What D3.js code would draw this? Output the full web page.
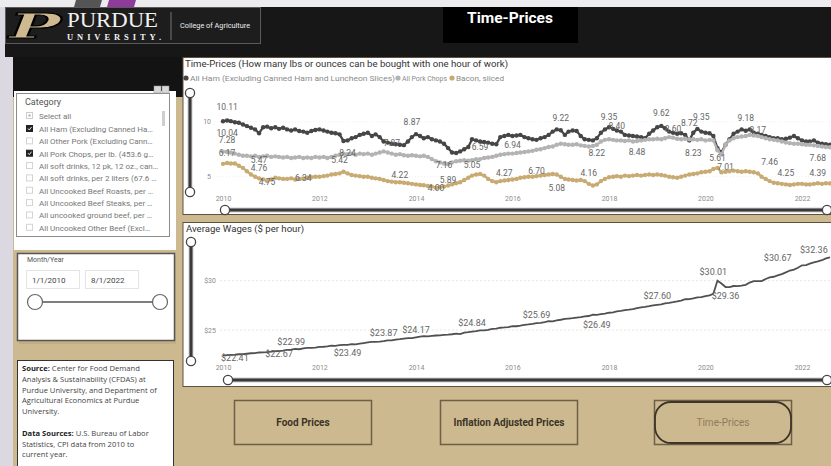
<!DOCTYPE html>
<meta charset="utf-8">
<head>
  <title>Time-Prices</title>
</head>
<style>
body { margin: 0; background: #dedae4; }
svg { display: block; font-family: Roboto, "Open Sans", sans-serif; }
.axis path, .axis line { display: none; }
.axis text { fill: #8c8c8c; font-size: 7px; font-family: Roboto, sans-serif; }
</style>
<body>
<svg width="831" height="466"></svg>
<script src="https://cdnjs.cloudflare.com/ajax/libs/d3/7.8.5/d3.min.js"></script>
<script>
// monthly series, Jan 2010 .. Aug 2022
var firstMonth = new Date(2010, 0, 1);

var ham = [
  10.04, 10.11, 10.05, 9.95, 9.9, 9.75, 9.6, 9.45, 9.3, 8.95, 9.5, 9.55,
  9.4, 9.5, 9.35, 9.45, 9.3, 9.2, 9.3, 9.15, 9.1, 9.0, 9.15, 9.25,
  9.3, 9.2, 9.1, 9.0, 8.95, 8.85, 8.25, 8.3, 8.5, 8.6, 8.8, 8.9,
  9.0, 8.7, 8.85, 8.6, 8.2, 8.1, 8.0, 7.95, 7.9, 7.87, 8.2, 8.6,
  8.87, 8.7, 8.5, 8.6, 8.4, 8.3, 8.2, 8.0, 7.6, 7.2, 7.15, 7.3,
  7.5, 7.7, 8.4, 8.3, 8.2, 8.15, 8.1, 8.0, 7.95, 8.6, 8.7, 8.8,
  8.7, 8.75, 8.8, 8.6, 8.5, 8.4, 8.35, 8.5, 8.6, 8.8, 9.1, 9.3,
  9.22, 8.8, 9.1, 9.2, 9.15, 8.7, 8.4, 8.35, 8.3, 8.5, 9.0, 9.3,
  9.5, 9.35, 9.2, 9.1, 8.8, 8.75, 8.7, 8.65, 8.6, 8.5, 8.9, 9.2,
  9.5, 9.62, 9.4, 9.1, 9.0, 8.9, 8.95, 8.8, 8.3, 9.0, 9.35, 9.1,
  9.0, 8.95, 8.7, 7.6, 7.2, 7.9, 8.4, 8.9, 9.1, 9.3, 9.18, 9.3,
  9.0, 8.9, 8.8, 8.7, 8.6, 8.5, 8.5, 8.4, 8.45, 8.55, 8.7, 8.5,
  8.3, 8.2, 8.2, 8.3, 8.1, 8.0, 7.95, 7.9
];

var porkChops = [
  7.28, 7.25, 7.2, 7.1, 7.0, 6.9, 6.9, 6.85, 6.9, 6.8, 6.85, 6.9,
  6.8, 6.85, 6.8, 6.75, 6.8, 6.7, 6.75, 6.8, 6.7, 6.75, 6.7, 6.8,
  6.75, 6.8, 6.7, 6.8, 6.9, 7.0, 7.1, 7.05, 7.1, 7.0, 7.1, 7.05,
  7.1, 7.0, 7.1, 7.2, 7.3, 7.2, 7.1, 7.0, 7.05, 6.95, 6.9, 6.95,
  6.9, 6.85, 6.9, 6.8, 6.6, 6.4, 6.3, 6.2, 6.15, 6.3, 6.4, 6.45,
  6.5, 6.45, 6.5, 6.6, 6.6, 6.7, 6.75, 6.8, 6.9, 7.0, 7.05, 7.1,
  7.1, 7.15, 7.2, 7.25, 7.3, 7.35, 7.45, 7.5, 7.6, 7.7, 7.75, 7.9,
  8.0, 7.95, 7.9, 7.9, 7.95, 7.85, 7.8, 7.75, 7.8, 7.9, 8.2, 8.35,
  8.4, 8.35, 8.3, 8.3, 8.25, 8.3, 8.2, 8.25, 8.3, 8.35, 8.4, 8.4,
  8.45, 8.4, 8.5, 8.6, 8.55, 8.45, 8.4, 8.45, 8.4, 8.4, 8.35, 8.4,
  8.3, 8.35, 8.3, 7.4, 7.01, 7.9, 8.3, 8.5, 8.6, 8.65, 8.7, 8.8,
  8.75, 8.7, 8.6, 8.5, 8.4, 8.35, 8.3, 8.2, 8.1, 8.05, 8.0, 8.0,
  7.95, 7.9, 7.9, 7.85, 7.8, 7.75, 7.7, 7.68
];

var bacon = [
  6.17, 6.25, 6.2, 6.2, 6.0, 5.8, 5.5, 5.2, 5.0, 4.85, 4.76, 4.6,
  4.75, 4.9, 4.85, 4.8, 4.8, 4.85, 4.75, 4.8, 4.85, 4.9, 4.95, 5.0,
  5.0, 5.05, 5.1, 5.2, 5.25, 5.3, 5.45, 5.3, 5.15, 5.1, 5.05, 5.0,
  5.0, 4.9, 4.85, 4.8, 4.7, 4.6, 4.55, 4.5, 4.5, 4.45, 4.4, 4.35,
  4.3, 4.25, 4.22, 4.15, 4.1, 4.0, 4.05, 4.1, 4.2, 4.3, 4.4, 4.5,
  4.7, 4.9, 5.1, 5.2, 5.25, 5.1, 4.8, 4.6, 4.5, 4.6, 4.65, 4.7,
  4.75, 4.8, 4.9, 4.95, 5.0, 5.0, 5.05, 5.1, 5.15, 5.2, 5.25, 5.2,
  5.0, 4.8, 4.75, 4.7, 4.65, 4.7, 4.6, 4.35, 4.2, 4.3, 4.6, 4.8,
  4.95, 5.0, 5.05, 5.0, 5.1, 5.05, 5.1, 5.15, 5.1, 5.15, 5.2, 5.15,
  5.2, 5.15, 5.1, 5.0, 4.95, 4.9, 5.0, 5.1, 5.2, 5.25, 5.3, 5.4,
  5.45, 5.5, 5.7, 5.8, 5.4, 5.45, 5.5, 5.55, 5.5, 5.45, 5.5, 5.45,
  5.4, 5.3, 5.0, 4.8, 4.6, 4.45, 4.4, 4.35, 4.3, 4.25, 4.3, 4.35,
  4.35, 4.3, 4.3, 4.35, 4.4, 4.35, 4.4, 4.39
];

var wages = [
  22.41, 22.45, 22.47, 22.49, 22.54, 22.55, 22.59, 22.64, 22.66, 22.72, 22.74, 22.76,
  22.80, 22.85, 22.86, 22.91, 22.99, 23.00, 23.09, 23.05, 23.13, 23.18, 23.18, 23.22,
  23.28, 23.30, 23.33, 23.41, 23.40, 23.47, 23.49, 23.50, 23.56, 23.55, 23.61, 23.67,
  23.74, 23.79, 23.80, 23.83, 23.87, 23.95, 23.95, 24.03, 24.07, 24.12, 24.17, 24.17,
  24.26, 24.33, 24.37, 24.35, 24.41, 24.44, 24.46, 24.51, 24.53, 24.57, 24.64, 24.59,
  24.74, 24.78, 24.84, 24.89, 24.96, 24.97, 25.01, 25.11, 25.13, 25.23, 25.26, 25.30,
  25.39, 25.38, 25.44, 25.52, 25.56, 25.62, 25.69, 25.73, 25.79, 25.90, 25.88, 25.98,
  26.04, 26.12, 26.16, 26.20, 26.26, 26.31, 26.39, 26.42, 26.55, 26.53, 26.60, 26.65,
  26.75, 26.79, 26.88, 26.93, 27.01, 27.06, 27.12, 27.21, 27.29, 27.34, 27.41, 27.50,
  27.55, 27.60, 27.71, 27.76, 27.82, 27.90, 27.99, 28.12, 28.13, 28.20, 28.31, 28.34,
  28.43, 28.52, 28.68, 30.01, 29.72, 29.36, 29.35, 29.46, 29.45, 29.50, 29.58, 29.81,
  29.96, 29.96, 29.96, 30.17, 30.33, 30.40, 30.54, 30.67, 30.85, 31.03, 31.13, 31.31,
  31.56, 31.58, 31.73, 31.85, 31.95, 32.08, 32.27, 32.36
];

// data labels: [month index, label level, text]
var hamLabels = [[1, 11.34, "10.11"], [1, 8.97, "10.04"], [47, 9.97, "8.87"], [42, 8.06, "7.87"],
  [64, 7.7, "6.59"], [84, 10.34, "9.22"], [96, 10.43, "9.35"], [98, 9.61, "8.40"],
  [109, 10.79, "9.62"], [112, 9.34, "8.60"], [116, 9.88, "8.72"], [119, 10.43, "9.35"],
  [130, 10.34, "9.18"], [133, 9.25, "8.17"]];
var porkLabels = [[1, 8.34, "7.28"], [9, 6.52, "5.47"], [31, 7.15, "8.24"], [29, 6.52, "5.42"],
  [55, 6.06, "7.16"], [62, 6.06, "5.05"], [72, 7.88, "6.94"], [93, 7.15, "8.22"],
  [103, 7.25, "8.48"], [117, 7.15, "8.23"], [125, 5.88, "7.01"], [136, 6.34, "7.46"], [148, 6.7, "7.68"]];
var baconLabels = [[1, 7.15, "6.17"], [9, 5.79, "4.76"], [11, 4.52, "4.75"], [20, 4.88, "6.34"],
  [44, 5.15, "4.22"], [56, 4.7, "5.89"], [53, 3.97, "4.00"], [70, 5.34, "4.27"], [78, 5.52, "6.70"],
  [83, 3.97, "5.08"], [91, 5.34, "4.16"], [123, 6.7, "5.61"], [140, 5.34, "4.25"], [148, 5.34, "4.39"]];
var wageLabels = [[3, 22.16, "$22.41"], [14, 22.57, "$22.67"], [17, 23.78, "$22.99"], [31, 22.67, "$23.49"],
  [40, 24.7, "$23.87"], [48, 25.0, "$24.17"], [62, 25.7, "$24.84"], [78, 26.52, "$25.69"],
  [93, 25.5, "$26.49"], [108, 28.45, "$27.60"], [122, 30.88, "$30.01"], [125, 28.45, "$29.36"],
  [138, 32.3, "$30.67"], [147, 33.1, "$32.36"]];

var yearTicks = [2010, 2012, 2014, 2016, 2018, 2020, 2022];
var timeTicks = [5, 10];
var wageTicks = [25, 30];

var seriesNames = ["All Ham (Excluding Canned Ham and Luncheon Slices)", "All Pork Chops", "Bacon, sliced"];
var seriesColors = ["#464646", "#b3b3b3", "#c8ab72"];

var categoryItems = ["All Ham (Excluding Canned Ha\u2026", "All Other Pork (Excluding Cann\u2026",
  "All Pork Chops, per lb. (453.6 g\u2026", "All soft drinks, 12 pk, 12 oz., can\u2026",
  "All soft drinks, per 2 liters (67.6 \u2026", "All Uncooked Beef Roasts, per \u2026",
  "All Uncooked Beef Steaks, per \u2026", "All uncooked ground beef, per \u2026",
  "All Uncooked Other Beef (Excl\u2026"];
var categoryChecked = [true, false, true, false, false, false, false, false, false];
var buttonNames = ["Food Prices", "Inflation Adjusted Prices", "Time-Prices"];

var months = ham.map(function(d, i) { return d3.timeMonth.offset(firstMonth, i); });

var tan = "#cdb98f";
var svg = d3.select("svg");

// page background pieces
svg.append("rect").attr("width", 831).attr("height", 466).attr("fill", "#dcd8e2");
svg.append("rect").attr("width", 831).attr("height", 7).attr("fill", "#ececef");
svg.append("polygon").attr("points", "76,0 102,0 100,7 74,7").attr("fill", "#555");
svg.append("polygon").attr("points", "109,0 136,0 134,7 107,7").attr("fill", "#8e3b9c");
svg.append("rect").attr("x", 13).attr("y", 57).attr("width", 818).attr("height", 409).attr("fill", tan);
svg.append("rect").attr("x", 5).attr("y", 7).attr("width", 826).attr("height", 50).attr("fill", "#171717");
svg.append("rect").attr("x", 13).attr("y", 57).attr("width", 170).attr("height", 40).attr("fill", "#131313");

// logo
var logo = svg.append("g");
logo.append("rect").attr("x", 5.5).attr("y", 7.5).attr("width", 255).attr("height", 36)
  .attr("fill", "#1d1d1d").attr("stroke", "#5a5a5a");
logo.append("text").attr("x", 9).attr("y", 38).text("P")
  .attr("font-family", "DejaVu Serif").attr("font-weight", "bold").attr("font-style", "italic")
  .attr("font-size", 34).attr("textLength", 52).attr("lengthAdjust", "spacingAndGlyphs")
  .attr("fill", "#cfb991").attr("stroke", "#000").attr("stroke-width", 1.2);
logo.append("text").attr("x", 67).attr("y", 27).text("PURDUE")
  .attr("font-family", "Liberation Serif").attr("font-size", 20).attr("textLength", 91)
  .attr("lengthAdjust", "spacingAndGlyphs").attr("fill", "#f2f2f2");
logo.append("text").attr("x", 67).attr("y", 39.5).text("UNIVERSITY.")
  .attr("font-family", "Liberation Serif").attr("font-weight", "bold").attr("font-size", 8.5)
  .attr("textLength", 94).attr("fill", "#f2f2f2");
logo.append("line").attr("x1", 171).attr("x2", 171).attr("y1", 12).attr("y2", 40).attr("stroke", "#777");
logo.append("text").attr("x", 180).attr("y", 28).text("College of Agriculture")
  .attr("font-size", 7).attr("textLength", 70).attr("lengthAdjust", "spacingAndGlyphs").attr("fill", "#eee");

svg.append("rect").attr("x", 443).attr("y", 7).attr("width", 135).attr("height", 36).attr("fill", "#000");
svg.append("text").attr("x", 510).attr("y", 23).attr("text-anchor", "middle").text("Time-Prices")
  .attr("font-size", 14).attr("font-weight", "bold").attr("fill", "#fff")
  .attr("textLength", 86).attr("lengthAdjust", "spacingAndGlyphs");

// cards
svg.append("rect").attr("x", 183).attr("y", 57.5).attr("width", 650).attr("height", 157)
  .attr("fill", "#fff").attr("stroke", "#5e523f");
svg.append("rect").attr("x", 183).attr("y", 222.5).attr("width", 650).attr("height", 164)
  .attr("fill", "#fff").attr("stroke", "#5e523f");

// scales
var x = d3.scaleTime().domain([new Date(2010, 0, 1), new Date(2022, 0, 1)]).range([223, 802]);
var yTop = d3.scaleLinear().domain([5, 10]).range([176.7, 121.7]);
var yWage = d3.scaleLinear().domain([25, 30]).range([330, 280.7]);

// ---- top chart ----
svg.append("text").attr("x", 185).attr("y", 67).text("Time-Prices (How many lbs or ounces can be bought with one hour of work)")
  .attr("font-size", 9.5).attr("fill", "#333").attr("textLength", 323).attr("lengthAdjust", "spacingAndGlyphs");

var legendX = [186, 398, 452];
var legendW = [205, 45, 48];
seriesNames.forEach(function(n, i) {
  svg.append("circle").attr("cx", legendX[i]).attr("cy", 78).attr("r", 2.6).attr("fill", seriesColors[i]);
  svg.append("text").attr("x", legendX[i] + 4).attr("y", 80.5).text(n).attr("font-size", 7)
    .attr("fill", "#8a8a8a").attr("textLength", legendW[i]).attr("lengthAdjust", "spacingAndGlyphs");
});

svg.append("g").selectAll("line").data(timeTicks).join("line")
  .attr("x1", 214).attr("x2", 831).attr("y1", function(d) { return yTop(d); }).attr("y2", function(d) { return yTop(d); })
  .attr("stroke", "#f0f0f0").attr("stroke-dasharray", "1,2");

svg.append("g").attr("class", "axis").attr("transform", "translate(214,0)")
  .call(d3.axisLeft(yTop).tickValues(timeTicks).tickFormat(d3.format("d")).tickSize(0).tickPadding(3));
svg.append("g").attr("class", "axis").attr("transform", "translate(0,193)")
  .call(d3.axisBottom(x).tickValues(yearTicks.map(function(y) { return new Date(y, 0, 1); }))
    .tickFormat(d3.timeFormat("%Y")).tickSize(0).tickPadding(3));

var topLine = d3.line().x(function(d, i) { return x(months[i]); }).y(function(d) { return yTop(d); });
[ham, porkChops, bacon].forEach(function(s, k) {
  var g = svg.append("g");
  g.append("path").datum(s).attr("d", topLine).attr("fill", "none")
    .attr("stroke", seriesColors[k]).attr("stroke-width", 2.3);
  g.selectAll("circle").data(s).join("circle")
    .attr("cx", function(d, i) { return x(months[i]); })
    .attr("cy", function(d) { return yTop(d); })
    .attr("r", 2.2).attr("fill", seriesColors[k]);
});

[hamLabels, porkLabels, baconLabels].forEach(function(arr) {
  svg.append("g").selectAll("text").data(arr).join("text")
    .attr("x", function(d) { return x(months[d[0]]); })
    .attr("y", function(d) { return yTop(d[1]); })
    .attr("dy", "0.35em").attr("text-anchor", "middle")
    .attr("font-size", 8.5).attr("fill", "#666").text(function(d) { return d[2]; });
});

// ---- bottom chart ----
svg.append("text").attr("x", 186).attr("y", 232).text("Average Wages ($ per hour)")
  .attr("font-size", 9.5).attr("fill", "#333").attr("textLength", 118).attr("lengthAdjust", "spacingAndGlyphs");

svg.append("g").selectAll("line").data(wageTicks).join("line")
  .attr("x1", 220).attr("x2", 831).attr("y1", function(d) { return yWage(d); }).attr("y2", function(d) { return yWage(d); })
  .attr("stroke", "#e6e6e6").attr("stroke-dasharray", "2,2");

svg.append("g").attr("class", "axis").attr("transform", "translate(219,0)")
  .call(d3.axisLeft(yWage).tickValues(wageTicks).tickFormat(function(d) { return "$" + d; }).tickSize(0).tickPadding(3));
svg.append("g").attr("class", "axis").attr("transform", "translate(0,362)")
  .call(d3.axisBottom(x).tickValues(yearTicks.map(function(y) { return new Date(y, 0, 1); }))
    .tickFormat(d3.timeFormat("%Y")).tickSize(0).tickPadding(3));

svg.append("path").datum(wages)
  .attr("d", d3.line().x(function(d, i) { return x(months[i]); }).y(function(d) { return yWage(d); }))
  .attr("fill", "none").attr("stroke", "#505050").attr("stroke-width", 1.8);

svg.append("g").selectAll("text").data(wageLabels).join("text")
  .attr("x", function(d) { return x(months[d[0]]); })
  .attr("y", function(d) { return yWage(d[1]); })
  .attr("dy", "0.35em").attr("text-anchor", "middle")
  .attr("font-size", 9).attr("fill", "#666").text(function(d) { return d[2]; });

// range sliders on the charts
function slider(x1, y1, x2, y2) {
  var g = svg.append("g");
  g.append("line").attr("x1", x1).attr("y1", y1).attr("x2", x2).attr("y2", y2)
    .attr("stroke", "#9a9a9a").attr("stroke-width", 4.5);
  g.append("line").attr("x1", x1).attr("y1", y1).attr("x2", x2).attr("y2", y2)
    .attr("stroke", "#3a3a3a").attr("stroke-width", 2.5);
  [[x1, y1], [x2, y2]].forEach(function(p) {
    g.append("circle").attr("cx", p[0]).attr("cy", p[1]).attr("r", 4.6)
      .attr("fill", "#fff").attr("stroke", "#444").attr("stroke-width", 1.3);
  });
}
slider(190, 93, 190, 192);
slider(225, 210, 827, 210);
slider(191, 242, 191, 361);
slider(228, 380, 827, 380);

// ---- left panels ----
svg.append("rect").attr("x", 14).attr("y", 91).attr("width", 162).attr("height", 159).attr("fill", "#fff");
svg.append("rect").attr("x", 16.5).attr("y", 93.5).attr("width", 153).attr("height", 143)
  .attr("fill", "#fff").attr("stroke", "#8c8c8c");
svg.append("rect").attr("x", 154).attr("y", 86).attr("width", 7).attr("height", 7).attr("fill", "#d8d8d8").attr("stroke", "#999").attr("stroke-width", 0.5);
svg.append("rect").attr("x", 162).attr("y", 86).attr("width", 7).attr("height", 7).attr("fill", "#d8d8d8").attr("stroke", "#999").attr("stroke-width", 0.5);
svg.append("text").attr("x", 25).attr("y", 105).text("Category").attr("font-size", 9).attr("fill", "#555");
svg.append("rect").attr("x", 162).attr("y", 111).attr("width", 3).attr("height", 15).attr("fill", "#cfcfcf");

svg.append("rect").attr("x", 26.5).attr("y", 112.5).attr("width", 6).attr("height", 6).attr("fill", "#fff").attr("stroke", "#ccc");
svg.append("rect").attr("x", 28.5).attr("y", 114.5).attr("width", 2).attr("height", 2).attr("fill", "#aaa");
svg.append("text").attr("x", 39).attr("y", 119).text("Select all").attr("font-size", 8).attr("fill", "#777");

var items = svg.append("g").selectAll("g").data(categoryItems).join("g")
  .attr("transform", function(d, i) { return "translate(0," + (129 + i * 12.35) + ")"; });
items.append("rect").attr("x", 26.5).attr("y", -3.5).attr("width", 6).attr("height", 6)
  .attr("fill", function(d, i) { return categoryChecked[i] ? "#222" : "#fff"; })
  .attr("stroke", function(d, i) { return categoryChecked[i] ? "#222" : "#d4d4d4"; });
items.filter(function(d, i) { return categoryChecked[i]; }).append("path")
  .attr("d", "M28,-0.5 L29.3,1 L31.5,-2").attr("fill", "none").attr("stroke", "#fff").attr("stroke-width", 0.9);
items.append("text").attr("x", 39).attr("y", 3).text(function(d) { return d; })
  .attr("font-size", 8).attr("fill", "#777");

// date slicer
svg.append("rect").attr("x", 19).attr("y", 256).attr("width", 157).attr("height", 88).attr("fill", "#b7a67f").attr("opacity", 0.6);
svg.append("rect").attr("x", 17.5).attr("y", 253.5).attr("width", 157).attr("height", 87)
  .attr("fill", "#fff").attr("stroke", "#555").attr("stroke-width", 1.5);
svg.append("text").attr("x", 27).attr("y", 262).text("Month/Year").attr("font-size", 7).attr("fill", "#555");
[["1/1/2010", 26], ["8/1/2022", 85]].forEach(function(d) {
  svg.append("rect").attr("x", d[1] + 0.5).attr("y", 270.5).attr("width", 53).attr("height", 18)
    .attr("fill", "#fff").attr("stroke", "#e4e4e4");
  svg.append("text").attr("x", d[1] + 6).attr("y", 283).text(d[0]).attr("font-size", 8).attr("fill", "#444");
});
svg.append("line").attr("x1", 35).attr("x2", 160).attr("y1", 302).attr("y2", 302).attr("stroke", "#555").attr("stroke-width", 1.5);
[35, 160].forEach(function(cx) {
  svg.append("circle").attr("cx", cx).attr("cy", 302).attr("r", 7.5).attr("fill", "#fff")
    .attr("stroke", "#666").attr("stroke-width", 1.2);
});

// source note
svg.append("rect").attr("x", 17.5).attr("y", 360.5).attr("width", 156).attr("height", 110)
  .attr("fill", "#fff").attr("stroke", "#333");
var note = [["Source: ", "Center for Food Demand"], ["", "Analysis & Sustainability (CFDAS) at"],
  ["", "Purdue University, and Department of"], ["", "Agricultural Economics at Purdue"],
  ["", "University."], null, ["Data Sources: ", "U.S. Bureau of Labor"],
  ["", "Statistics, CPI data from 2010 to"], ["", "current year."]];
note.forEach(function(l, i) {
  if (!l) return;
  var t = svg.append("text").attr("x", 22).attr("y", 371 + i * 10.8).attr("font-size", 7.6)
    .attr("font-family", "Open Sans").attr("fill", "#444");
  if (l[0]) t.append("tspan").attr("font-weight", "bold").attr("fill", "#222").text(l[0]);
  t.append("tspan").text(l[1]);
});

// navigation buttons
var btnX = [234, 440, 654];
buttonNames.forEach(function(n, i) {
  var g = svg.append("g").attr("transform", "translate(" + btnX[i] + ",400)");
  g.append("rect").attr("x", 0.5).attr("y", 0.5).attr("width", 137).attr("height", 44)
    .attr("fill", "none").attr("stroke", "#6e6048").attr("stroke-width", 1.5);
  if (i == 2) {
    g.append("rect").attr("x", 1).attr("y", 2).attr("width", 136).attr("height", 41).attr("rx", 16)
      .attr("fill", tan).attr("stroke", "#3e3528").attr("stroke-width", 1.8);
  }
  g.append("text").attr("x", 69).attr("y", 26).attr("text-anchor", "middle").text(n)
    .attr("font-size", 10).attr("font-weight", i == 2 ? "normal" : "bold")
    .attr("fill", i == 2 ? "#8d7c5e" : "#3b3326");
});
</script>
</body>
